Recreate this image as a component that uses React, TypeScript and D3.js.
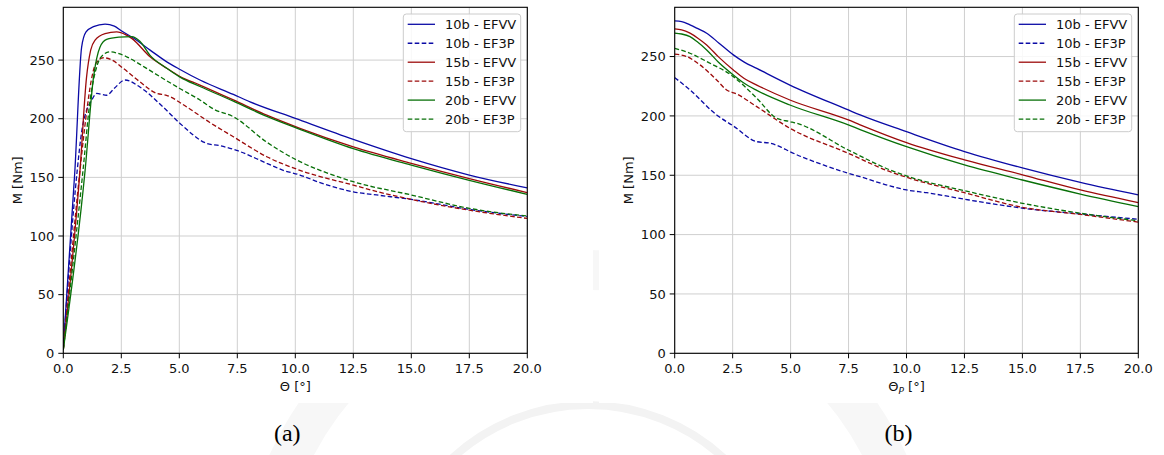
import React from "react";
import * as d3 from "d3";

// ---------- DATA ----------
const seriesNames = ["10b - EFVV", "10b - EF3P", "15b - EFVV", "15b - EF3P", "20b - EFVV", "20b - EF3P"];
const seriesColors = ["#0b0ba6", "#0b0ba6", "#9c0b0b", "#9c0b0b", "#087008", "#087008"];
const seriesDashed = [false, true, false, true, false, true];

const xTicks = [0, 2.5, 5, 7.5, 10, 12.5, 15, 17.5, 20];
const yTicks = [0, 50, 100, 150, 200, 250];

// Panel (a): M vs Θ
const a10EFVV_x = [0, 0.5, 0.79, 0.98, 1.3, 1.8, 2.2, 2.5, 3.0, 3.74, 4.46, 5.03, 5.89, 7.33, 8.05, 10.0, 12.5, 15.0, 17.5, 20.0];
const a10EFVV_y = [5, 156, 261, 274, 278.5, 280.7, 279, 275, 269, 258.5, 248.5, 242, 233, 220.7, 214.4, 200.3, 182.4, 166, 152, 141];
const a10EF3P_x = [0, 0.6, 0.8, 1.0, 1.2, 1.44, 1.87, 2.2, 2.66, 3.3, 4.3, 5.03, 6.18, 6.75, 7.47, 8.77, 9.48, 10.2, 11.0, 12.5, 13.5, 15.0, 17.5, 20.0];
const a10EF3P_y = [4, 156, 190, 207, 215, 221.6, 220, 226, 233, 227, 210, 196, 179, 177, 173, 162, 156, 152, 146, 137.7, 135, 131.2, 122.7, 116.6];
const a15EFVV_x = [0, 0.72, 1.0, 1.18, 1.37, 1.8, 2.3, 2.7, 2.95, 3.74, 4.46, 5.03, 5.89, 7.33, 8.77, 10.2, 12.5, 15.0, 17.5, 20.0];
const a15EFVV_y = [3, 156, 235, 258.5, 267, 272.5, 274, 271.5, 268.5, 252.8, 243, 236, 228.7, 216, 203, 191.8, 176, 162, 149, 137];
const a15EF3P_x = [0, 0.72, 1.0, 1.2, 1.4, 1.73, 2.1, 2.58, 3.3, 4.02, 4.45, 5.32, 6.3, 7.33, 8.77, 10.2, 12.5, 13.7, 15.0, 17.5, 20.0];
const a15EF3P_y = [3, 156, 205, 232, 247, 252, 250, 243, 231.5, 221.6, 220, 210, 197, 184.6, 167.6, 156, 143.4, 137, 131.2, 122, 115];
const a20EFVV_x = [0, 0.94, 1.3, 1.58, 1.87, 2.4, 2.95, 3.3, 3.74, 4.46, 5.03, 5.89, 7.33, 8.77, 10.2, 12.5, 15.0, 17.5, 20.0];
const a20EFVV_y = [3, 156, 235, 261, 267.6, 269.5, 270, 266, 254, 243, 235.5, 227.5, 215, 202, 191, 174.5, 160.5, 147.5, 135.5];
const a20EF3P_x = [0, 0.85, 1.15, 1.45, 1.75, 2.01, 2.4, 2.73, 3.5, 4.17, 5.0, 5.89, 6.5, 7.33, 8.77, 10.2, 11.07, 12.5, 15.0, 17.5, 20.0];
const a20EF3P_y = [3, 156, 215, 245, 255, 257, 255.5, 252.8, 244, 235.8, 226, 216, 208, 201.7, 180, 163.4, 156, 146.3, 135, 123.6, 117];

// Panel (b): M vs Θp
const b10EFVV_x = [0, 0.3, 0.66, 1.0, 1.38, 1.9, 2.53, 3.0, 3.54, 4.97, 7.49, 8.0, 10.0, 12.5, 15.04, 17.5, 20.0];
const b10EFVV_y = [280, 279.5, 276.7, 273.5, 269.7, 261.5, 251.4, 245.3, 240, 226, 205, 200.8, 186.7, 170, 156, 144, 133.4];
const b10EF3P_x = [0, 0.66, 1.81, 2.53, 3.54, 4.11, 4.54, 4.97, 6.41, 7.49, 8.0, 9.29, 10.0, 10.87, 12.5, 15.04, 17.5, 20.0];
const b10EF3P_y = [232.3, 221.9, 200.8, 191.5, 178.3, 177, 174.1, 169.9, 158.7, 151.7, 148.8, 141, 137.6, 135.3, 129.8, 122.2, 117.4, 112.9];
const b15EFVV_x = [0, 0.3, 0.66, 1.0, 1.38, 1.9, 2.53, 3.0, 3.54, 4.97, 7.49, 8.0, 10.0, 12.5, 15.04, 17.5, 20.0];
const b15EFVV_y = [273.3, 272.5, 269.7, 265.5, 259.8, 249.5, 238.7, 231.5, 226, 213.4, 196.6, 192.5, 177.5, 162.9, 150.2, 137.6, 127];
const b15EF3P_x = [0, 0.52, 1.09, 1.81, 2.24, 2.67, 3.54, 4.97, 7.49, 9.29, 10.0, 12.5, 15.0, 17.5, 20.0];
const b15EF3P_y = [252, 250, 243, 230.3, 221.9, 218.5, 207.8, 189.6, 168.5, 153, 148.3, 135.3, 123, 117, 110.5];
const b20EFVV_x = [0, 0.3, 0.66, 1.0, 1.38, 1.9, 2.53, 3.0, 3.54, 4.97, 7.49, 8.0, 10.0, 12.5, 15.0, 17.5, 20.0];
const b20EFVV_y = [269.7, 269, 266.8, 262, 255.6, 245, 234.5, 227.5, 221.5, 209.2, 192.4, 188.5, 174.1, 158.7, 146, 134.2, 123.6];
const b20EF3P_x = [0, 0.66, 1.38, 2.53, 3.54, 4.4, 4.97, 5.26, 7.49, 9.29, 10.0, 12.5, 15.0, 17.5, 20.0];
const b20EF3P_y = [257, 252.8, 245.8, 233.1, 214.9, 198, 195.2, 193.8, 171.3, 154.5, 149.4, 137, 126.4, 118, 111.7];

const panelA = [
  [a10EFVV_x, a10EFVV_y], [a10EF3P_x, a10EF3P_y],
  [a15EFVV_x, a15EFVV_y], [a15EF3P_x, a15EF3P_y],
  [a20EFVV_x, a20EFVV_y], [a20EF3P_x, a20EF3P_y],
];
const panelB = [
  [b10EFVV_x, b10EFVV_y], [b10EF3P_x, b10EF3P_y],
  [b15EFVV_x, b15EFVV_y], [b15EF3P_x, b15EF3P_y],
  [b20EFVV_x, b20EFVV_y], [b20EF3P_x, b20EF3P_y],
];

const FONT = "'DejaVu Sans', 'Liberation Sans', sans-serif";
const FS = 13;

type PanelProps = {
  left: number; right: number; top: number; bottom: number;
  yMax: number; series: number[][][]; xLabel: React.ReactNode;
  yLabelX: number; caption: string; clipId: string;
};

function Panel({ left, right, top, bottom, yMax, series, xLabel, yLabelX, caption, clipId }: PanelProps) {
  const x = d3.scaleLinear().domain([0, 20]).range([left, right]);
  const y = d3.scaleLinear().domain([0, yMax]).range([bottom, top]);
  const line = d3.line<[number, number]>().x(d => x(d[0])).y(d => y(d[1])).curve(d3.curveMonotoneX);
  const legW = 117.4, legH = 117.7;
  const legX = right - 6.6 - legW, legY = top + 6.7;
  const rowH = 18.95;
  const textStyle = { fontFamily: FONT, fontSize: FS };
  return (
    <g>
      <defs>
        <clipPath id={clipId}><rect x={left} y={top} width={right - left} height={bottom - top} /></clipPath>
      </defs>
      {xTicks.map(t => (
        <line key={"gx" + t} x1={x(t)} x2={x(t)} y1={top} y2={bottom} stroke="#cfcfcf" strokeWidth={1} />
      ))}
      {yTicks.map(t => (
        <line key={"gy" + t} x1={left} x2={right} y1={y(t)} y2={y(t)} stroke="#cfcfcf" strokeWidth={1} />
      ))}
      <g clipPath={`url(#${clipId})`}>
        {series.map((s, i) => {
          const pts = s[0].map((v, k) => [v, s[1][k]] as [number, number]);
          return (
            <path key={i} d={line(pts) || ""} fill="none" stroke={seriesColors[i]} strokeWidth={1.3}
              strokeDasharray={seriesDashed[i] ? "4.6,2.4" : undefined} strokeLinejoin="round" />
          );
        })}
      </g>
      <rect x={left} y={top} width={right - left} height={bottom - top} fill="none" stroke="#000" strokeWidth={1.1} />
      {xTicks.map(t => (
        <g key={"tx" + t}>
          <line x1={x(t)} x2={x(t)} y1={bottom} y2={bottom + 5} stroke="#000" strokeWidth={1} />
          <text x={x(t)} y={bottom + 19.2} textAnchor="middle" style={textStyle} fill="#111">{t.toFixed(1)}</text>
        </g>
      ))}
      {yTicks.map(t => (
        <g key={"ty" + t}>
          <line x1={left - 5} x2={left} y1={y(t)} y2={y(t)} stroke="#000" strokeWidth={1} />
          <text x={left - 9} y={y(t) + 4.7} textAnchor="end" style={textStyle} fill="#111">{t}</text>
        </g>
      ))}
      <text x={(left + right) / 2} y={bottom + 38} textAnchor="middle" style={textStyle} fill="#111">{xLabel}</text>
      <text transform={`translate(${yLabelX},${(top + bottom) / 2}) rotate(-90)`} textAnchor="middle" style={textStyle} fill="#111">M [Nm]</text>
      <rect x={legX} y={legY} width={legW} height={legH} rx={3} fill="#fff" fillOpacity={0.85} stroke="#cccccc" strokeWidth={1} />
      {seriesNames.map((n, i) => {
        const cy = legY + 10.3 + i * rowH;
        return (
          <g key={n}>
            <line x1={legX + 4.4} x2={legX + 31.7} y1={cy} y2={cy} stroke={seriesColors[i]} strokeWidth={1.3}
              strokeDasharray={seriesDashed[i] ? "4.6,2.4" : undefined} />
            <text x={legX + 41.7} y={cy + 4.7} style={textStyle} fill="#111">{n}</text>
          </g>
        );
      })}
      <text x={(left + right) / 2 - 8} y={441} textAnchor="middle"
        style={{ fontFamily: "'Liberation Serif', 'Times New Roman', serif", fontSize: 24 }} fill="#000">{caption}</text>
    </g>
  );
}

export default function App() {
  return (
    <svg width={1164} height={455} style={{ position: "absolute", left: 0, top: 0, background: "#fff" }}>
      <g fill="none">
        <circle cx={588} cy={605} r={200} stroke="#f3f3f3" strokeWidth={8} />
        <circle cx={588} cy={600} r={330} stroke="#f7f7f7" strokeWidth={40} />
      </g>
      <rect x={0} y={0} width={593} height={403} fill="#fff" />
      <rect x={599} y={0} width={565} height={403} fill="#fff" />
      <Panel left={63.3} right={527.3} top={7.3} bottom={353.3} yMax={295} series={panelA}
        xLabel={<>Θ [°]</>} yLabelX={22.3} caption="(a)" clipId="clipA" />
      <Panel left={674.7} right={1138.3} top={7.3} bottom={353.3} yMax={291.5} series={panelB}
        xLabel={<>Θ<tspan style={{ fontSize: 9, fontStyle: "italic" }} dy={3}>P</tspan><tspan dy={-3}> [°]</tspan></>}
        yLabelX={632.5} caption="(b)" clipId="clipB" />
    </svg>
  );
}
